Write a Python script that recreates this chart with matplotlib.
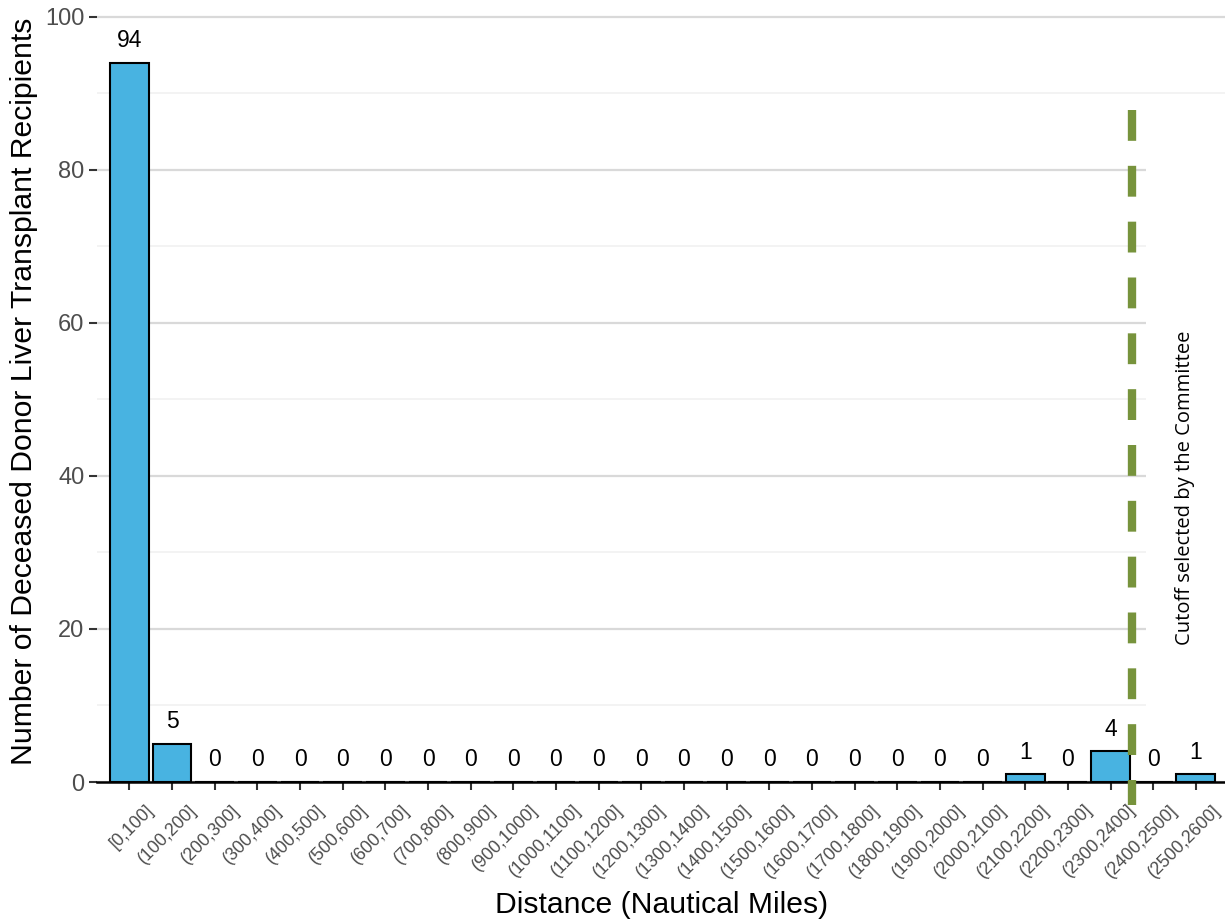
import matplotlib.pyplot as plt
from matplotlib.patches import Rectangle

# data
bins = ['[0,100]', '(100,200]', '(200,300]', '(300,400]', '(400,500]', '(500,600]',
        '(600,700]', '(700,800]', '(800,900]', '(900,1000]', '(1000,1100]', '(1100,1200]',
        '(1200,1300]', '(1300,1400]', '(1400,1500]', '(1500,1600]', '(1600,1700]',
        '(1700,1800]', '(1800,1900]', '(1900,2000]', '(2000,2100]', '(2100,2200]',
        '(2200,2300]', '(2300,2400]', '(2400,2500]', '(2500,2600]']
counts = [94, 5, 0, 0, 0, 0, 0, 0, 0, 0, 0, 0, 0, 0, 0, 0, 0, 0, 0, 0, 0, 1, 0, 4, 0, 1]
cutoff_pos = 23.5
cutoff_text = 'Cutoff selected by the Committee'

plt.rcParams['font.family'] = ['Liberation Sans', 'DejaVu Sans']

fig = plt.figure(figsize=(12.25, 9.22), dpi=100)
ax = fig.add_axes([97/1225, 140/922, 1130/1225, 782/922])

x = range(len(bins))
ax.bar(x, counts, width=0.91, color='#48b3e1', edgecolor='black', linewidth=1.5, zorder=3)

# count labels
for i, c in zip(x, counts):
    ax.annotate(str(c), (i, c), xytext=(0, 16), textcoords='offset points',
                ha='center', va='center', fontsize=16.5, color='black', zorder=4)

ax.set_xlim(-0.76, 25.73)
ax.set_ylim(0, 102.2)

# grid
ax.set_yticks([0, 20, 40, 60, 80, 100])
ax.set_yticks([10, 30, 50, 70, 90], minor=True)
ax.grid(axis='y', which='major', color='#d9d9d9', linewidth=1.6, zorder=0)
ax.grid(axis='y', which='minor', color='#f1f1f1', linewidth=1.2, zorder=0)
ax.set_axisbelow(True)

# white box behind annotation text (hides grid there)
ax.add_patch(Rectangle((23.82, 5), 3, 83.5, facecolor='white', edgecolor='none', zorder=1))

# cutoff line (drawn top-down so the dash pattern starts at the top)
ax.plot([cutoff_pos, cutoff_pos], [87.8, -3], color='#77933c', linewidth=6,
        linestyle=(0, (3.7, 3.0)), clip_on=False, zorder=5, solid_capstyle='butt')
ax.text(24.75, 38.4, cutoff_text, rotation=90, ha='center', va='center',
        fontsize=14.5, family=['Open Sans', 'DejaVu Sans'], color='black', zorder=6)

# x tick labels, placed like ggplot's angle=45 labels
ax.set_xticks(list(x))
ax.set_xticklabels([])
for i, b in zip(x, bins):
    ax.annotate(b, (i, 0), xycoords=ax.get_xaxis_transform(), xytext=(11.5, -14),
                textcoords='offset points', rotation=45, ha='right', va='top',
                rotation_mode='anchor', fontsize=12.7, color='#4d4d4d', annotation_clip=False)
ax.tick_params(axis='x', length=6, width=1.5, color='#333333')
ax.tick_params(axis='y', which='major', length=6, width=1.5, color='#333333',
               labelsize=17, labelcolor='#4d4d4d', pad=3)
ax.tick_params(axis='y', which='minor', length=0)

for s in ['top', 'right', 'left']:
    ax.spines[s].set_visible(False)
ax.spines['bottom'].set_linewidth(1.8)
ax.spines['bottom'].set_color('black')

ax.set_xlabel('Distance (Nautical Miles)', fontsize=21.7)
ax.xaxis.set_label_coords(0.5, -0.14)
ax.set_ylabel('Number of Deceased Donor Liver Transplant Recipients', fontsize=21.7, labelpad=5)

fig.savefig('out.png', dpi=100)
